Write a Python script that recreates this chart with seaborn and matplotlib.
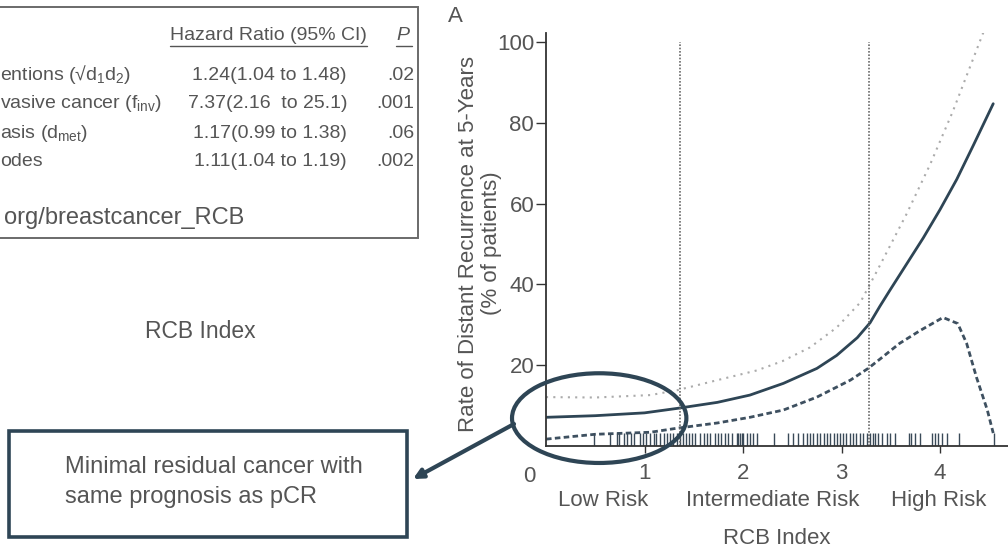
import numpy as np
import pandas as pd
import matplotlib
matplotlib.use("Agg")
import matplotlib.pyplot as plt
from matplotlib.patches import Ellipse, Rectangle
import seaborn as sns

# ---- data ----
solid_x = [0, 0.5, 1.0, 1.33, 1.74, 2.07, 2.41, 2.75, 2.95, 3.16, 3.29, 3.39, 3.49, 3.66, 3.83, 4.0, 4.17, 4.34, 4.54]
solid_y = [7.1, 7.5, 8.2, 9.3, 10.8, 12.6, 15.5, 19.2, 22.4, 26.8, 30.5, 34.6, 38.5, 45.0, 51.5, 58.5, 66.0, 74.5, 84.7]

upper_x = [0, 0.5, 1.06, 1.33, 1.74, 2.14, 2.4, 2.68, 2.95, 3.19, 3.36, 3.66, 3.90, 4.13, 4.45]
upper_y = [12.1, 12.0, 12.6, 13.8, 16.3, 18.7, 21.0, 24.4, 29.3, 35.5, 43.3, 57.4, 69.7, 82.8, 103.0]

lower_x = [0, 0.5, 1.06, 1.33, 1.74, 2.07, 2.41, 2.75, 3.09, 3.27, 3.39, 3.59, 3.80, 4.03, 4.18, 4.27, 4.37, 4.48, 4.54]
lower_y = [1.7, 2.9, 3.4, 4.4, 5.7, 7.1, 8.9, 12.1, 16.3, 19.2, 21.5, 25.4, 28.6, 31.8, 30.3, 25.4, 17.0, 8.9, 3.2]

rug_x = [0.49, 0.65, 0.72, 0.74, 0.79, 0.82, 0.86, 0.89, 0.95, 0.98, 1.02, 1.06, 1.10, 1.12,
         1.16, 1.20, 1.23, 1.26, 1.29, 1.33, 1.36, 1.39, 1.42, 1.45, 1.48, 1.51, 1.56, 1.60,
         1.63, 1.66, 1.72, 1.75, 1.78, 1.82, 1.85, 1.89, 1.94, 1.95, 1.97, 1.99, 2.00, 2.04,
         2.07, 2.10, 2.14, 2.31, 2.46, 2.51, 2.56, 2.61, 2.65, 2.68, 2.71, 2.75, 2.78, 2.82,
         2.85, 2.88, 2.92, 2.95, 2.98, 3.02, 3.05, 3.09, 3.12, 3.15, 3.19, 3.22, 3.26, 3.29,
         3.32, 3.34, 3.37, 3.41, 3.46, 3.49, 3.54, 3.68, 3.71, 3.75, 3.80, 3.92, 3.95, 3.98,
         4.02, 4.07, 4.19, 4.55]

cutoffs = [1.36, 3.28]
x_ticks = [1, 2, 3, 4]
y_ticks = [20, 40, 60, 80, 100]
risk_labels = ["Low Risk", "Intermediate Risk", "High Risk"]
risk_pos = [0.58, 2.30, 3.99]

table_header = "Hazard Ratio (95% CI)"
table_rows = ["entions (\u221ad$_1$d$_2$)", "vasive cancer (f$_{\\mathrm{inv}}$)",
              "asis (d$_{\\mathrm{met}}$)", "odes"]
table_hr = ["1.24(1.04 to 1.48)", "7.37(2.16  to 25.1)", "1.17(0.99 to 1.38)", "1.11(1.04 to 1.19)"]
table_p = [".02", ".001", ".06", ".002"]

# ---- style ----
sns.set_theme(style="white")
plt.rcParams["font.family"] = ["Liberation Sans", "DejaVu Sans"]
plt.rcParams["mathtext.fontset"] = "custom"
plt.rcParams["mathtext.rm"] = "Liberation Sans"
plt.rcParams["mathtext.it"] = "Liberation Sans:italic"

txt = "#555555"
ink = "#2e4555"
y_top = 102.2

fig = plt.figure(figsize=(10.08, 5.51), dpi=100)
ax = fig.add_axes([546 / 1008, 105 / 551, 462 / 1008, 413 / 551])

sns.lineplot(x=upper_x, y=upper_y, ax=ax, color="#ababab", lw=1.5, linestyle=(0, (1, 2.5)), estimator=None)
sns.lineplot(x=lower_x, y=lower_y, ax=ax, color="#3e5060", lw=2.0, linestyle=(0, (2, 1.2)), estimator=None)
sns.lineplot(x=solid_x, y=solid_y, ax=ax, color=ink, lw=2.0, estimator=None)
sns.rugplot(x=rug_x, ax=ax, height=0.031, color="#3a4a58", lw=1.1)

for c in cutoffs:
    ax.axvline(c, ymin=0, ymax=100 / y_top, color="#6a6a6a", lw=1.2, linestyle=(0, (1, 1)))

ax.set_xlim(0, 4.69)
ax.set_ylim(0, y_top)
ax.set_xticks(x_ticks)
ax.set_yticks(y_ticks)
ax.tick_params(axis="x", direction="out", length=5, width=1, pad=7, labelsize=16, colors=txt)
ax.tick_params(axis="y", direction="out", length=7, width=1, pad=1.5, labelsize=16, colors=txt)
ax.tick_params(axis="both", color="#333333", bottom=True, left=True)
sns.despine(ax=ax)
for s in ["left", "bottom"]:
    ax.spines[s].set_color("#333333")
    ax.spines[s].set_linewidth(1.3)

ax.set_ylabel("Rate of Distant Recurrence at 5-Years\n(% of patients)", fontsize=16, color=txt, linespacing=1.15)
ax.yaxis.set_label_coords(-0.095, 0.49)
ax.set_xlabel("RCB Index", fontsize=16, color=txt)
ax.xaxis.set_label_coords(0.5, -0.199)

ax.text(-0.17, -7.5, "0", fontsize=16, color=txt, ha="center", va="center", clip_on=False)
for lab, pos in zip(risk_labels, risk_pos):
    ax.text(pos, -13.5, lab, fontsize=16, color=txt, ha="center", va="center", clip_on=False)

ax.add_patch(Ellipse((0.54, 6.9), 1.77, 22.2, fill=False, edgecolor=ink, lw=3, clip_on=False, zorder=5))

# ---- overlay in pixel coordinates ----
ov = fig.add_axes([0, 0, 1, 1], facecolor="none")
ov.set_xlim(0, 1008)
ov.set_ylim(551, 0)
ov.axis("off")

ov.text(455, 17, "A", fontsize=16, color=txt, ha="center", va="center")

# table box
ov.add_patch(Rectangle((-5, 7), 423, 231, fill=False, edgecolor="#6a6a6a", lw=1.4))
ov.text(268, 36, table_header, fontsize=14, color=txt, ha="center", va="center")
ov.plot([170, 367], [46, 46], color=txt, lw=1)
ov.text(403, 36, "P", fontsize=14, color=txt, ha="center", va="center", style="italic")
ov.plot([396, 412], [46, 46], color=txt, lw=1)
row_y = [75, 104, 133, 162]
for yy, lab, hr, p in zip(row_y, table_rows, table_hr, table_p):
    ov.text(0, yy, lab, fontsize=14, color=txt, ha="left", va="center")
    ov.text(347, yy, hr, fontsize=14, color=txt, ha="right", va="center")
    ov.text(414, yy, p, fontsize=14, color=txt, ha="right", va="center")
ov.text(4, 218, "org/breastcancer_RCB", fontsize=17, color=txt, ha="left", va="center")

ov.text(200, 331, "RCB Index", fontsize=16.5, color=txt, ha="center", va="center")

# annotation box + arrow
ov.add_patch(Rectangle((9, 431), 398, 106, fill=False, edgecolor=ink, lw=2.6))
ov.text(65, 467, "Minimal residual cancer with", fontsize=17, color=txt, ha="left", va="center")
ov.text(65, 497, "same prognosis as pCR", fontsize=17, color=txt, ha="left", va="center")
ov.annotate("", xy=(413, 479), xytext=(514, 424),
            arrowprops=dict(arrowstyle="-|>", color=ink, lw=3, mutation_scale=14, shrinkA=0, shrinkB=0))

fig.savefig("out.png", dpi=100)
